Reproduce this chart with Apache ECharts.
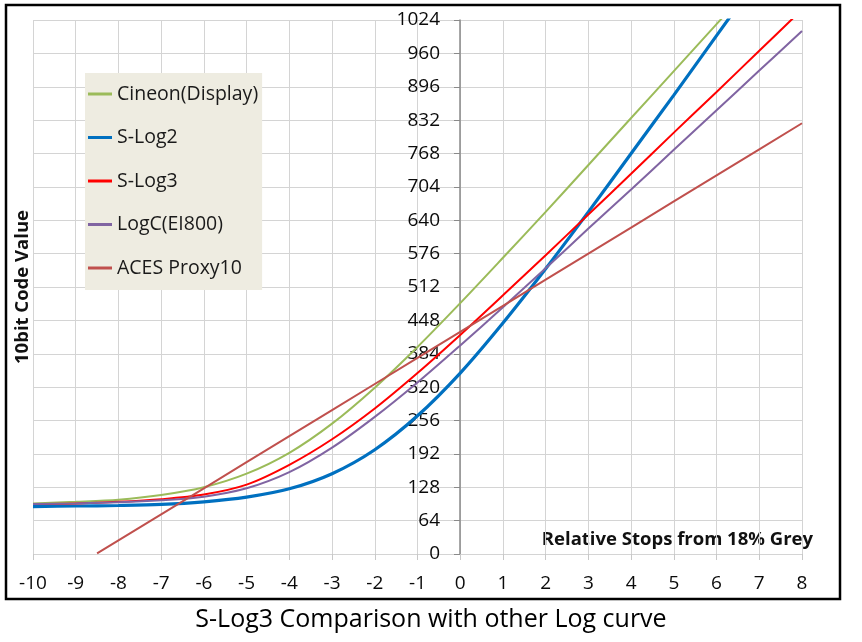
<!DOCTYPE html>
<html>
<head>
<meta charset="utf-8">
<script src="https://cdn.jsdelivr.net/npm/echarts@6/dist/echarts.min.js"></script>
<style>
  html, body { margin: 0; padding: 0; background: #fff; }
  #chart { width: 862px; height: 642px; }
</style>
</head>
<body>
<div id="chart"></div>
<script>
// stops relative to 18% grey
const stops = [-10, -9, -8, -7, -6, -5, -4, -3, -2, -1, 0, 1, 2, 3, 4, 5, 6, 7, 8];
// 10bit code values
const cineon = [97, 100, 104, 113, 128, 154, 194, 250, 319, 397, 481, 568, 656, 746, 836, 926, 1016, 1106, 1196];
const slog2 = [91, 92, 93, 95, 100, 109, 125, 154, 200, 265, 347, 443, 547, 656, 768, 880, 994, 1108, 1222];
const slog3 = [96, 97, 100, 105, 114, 133, 171, 220, 279, 347, 420, 496, 573, 651, 729, 808, 886, 965, 1044];
const logc = [96, 97, 99, 103, 110, 126, 157, 204, 263, 329, 400, 473, 548, 624, 699, 775, 851, 927, 1003];
const acesStops = [-8.5, -8, -7, -6, -5, -4, -3, -2, -1, 0, 1, 2, 3, 4, 5, 6, 7, 8];
const aces = [1, 26, 76, 126, 176, 226, 276, 326, 376, 426, 476, 526, 576, 626, 676, 726, 776, 826];

const names = ["Cineon(Display)", "S-Log2", "S-Log3", "LogC(EI800)", "ACES Proxy10"];
const colors = ["#9BBB59", "#0070C0", "#FF0000", "#8064A2", "#C0504D"];

const font = "'Open Sans', 'Noto Sans', sans-serif";

function pairs(xs, ys) {
  return xs.map((x, i) => [x, ys[i]]);
}

const chart = echarts.init(document.getElementById("chart"), null, { renderer: "canvas" });

// grid is 33..802 px wide for -10..8, so x=0 sits 427px in from the left
const yAxisOffset = -427;

const option = {
  animation: false,
  backgroundColor: "#fff",
  textStyle: { fontFamily: font },
  title: {
    text: "S-Log3 Comparison with other Log curve",
    left: "center",
    top: 602,
    textStyle: { fontFamily: font, fontSize: 25, fontWeight: "normal", color: "#000" }
  },
  grid: { left: 33, right: 60, top: 20, bottom: 88, containLabel: false, outerBoundsMode: "none" },
  legend: {
    orient: "vertical",
    left: 85,
    top: 73,
    backgroundColor: "#EEECE1",
    padding: [11, 4, 12, 3],
    itemGap: 23.5,
    itemWidth: 24,
    itemHeight: 3,
    icon: "rect",
    data: names,
    textStyle: { fontFamily: font, fontSize: 19.5, color: "#1a1a1a" }
  },
  xAxis: {
    type: "value",
    min: -10,
    max: 8,
    interval: 1,
    axisLine: { show: false },
    axisTick: { show: true, length: 6, lineStyle: { color: "#c8c8c8" } },
    axisLabel: { margin: 20, fontSize: 19, color: "#0a0a0a", fontFamily: font },
    splitLine: { show: true, lineStyle: { color: "#d4d4d4", width: 1 } }
  },
  yAxis: {
    type: "value",
    min: 0,
    max: 1024,
    interval: 64,
    offset: yAxisOffset,
    axisLine: { show: true, onZero: false, lineStyle: { color: "#8a8a8a", width: 1.5 } },
    axisTick: { show: true, length: 6, lineStyle: { color: "#8a8a8a" } },
    axisLabel: { margin: 20, fontSize: 19, color: "#0a0a0a", fontFamily: font, formatter: v => String(v) },
    splitLine: { show: true, lineStyle: { color: "#d4d4d4", width: 1 } }
  },
  series: [
    { name: names[0], type: "line", data: pairs(stops, cineon), color: colors[0], lineStyle: { width: 2 } },
    { name: names[1], type: "line", data: pairs(stops, slog2), color: colors[1], lineStyle: { width: 3.2 } },
    { name: names[2], type: "line", data: pairs(stops, slog3), color: colors[2], lineStyle: { width: 2 } },
    { name: names[3], type: "line", data: pairs(stops, logc), color: colors[3], lineStyle: { width: 2 } },
    { name: names[4], type: "line", data: pairs(acesStops, aces), color: colors[4], lineStyle: { width: 2 }, smooth: false }
  ].map(s => Object.assign({
    showSymbol: false,
    symbol: "none",
    smooth: 0.3,
    clip: true
  }, s)),
  graphic: [
    {
      type: "rect",
      shape: { x: 6, y: 5, width: 834, height: 594 },
      style: { fill: null, stroke: "#000", lineWidth: 2.5 },
      silent: true
    },
    {
      type: "text",
      x: 23,
      y: 287,
      rotation: Math.PI / 2,
      style: {
        text: "10bit Code Value",
        font: "bold 18.5px " + font,
        fill: "#111",
        textAlign: "center",
        textVerticalAlign: "middle"
      }
    },
    {
      type: "text",
      x: 813,
      y: 540,
      style: {
        text: "Relative Stops from 18% Grey",
        font: "bold 18.5px " + font,
        fill: "#111",
        textAlign: "right",
        textVerticalAlign: "middle"
      }
    }
  ]
};

chart.setOption(option);
</script>
</body>
</html>
